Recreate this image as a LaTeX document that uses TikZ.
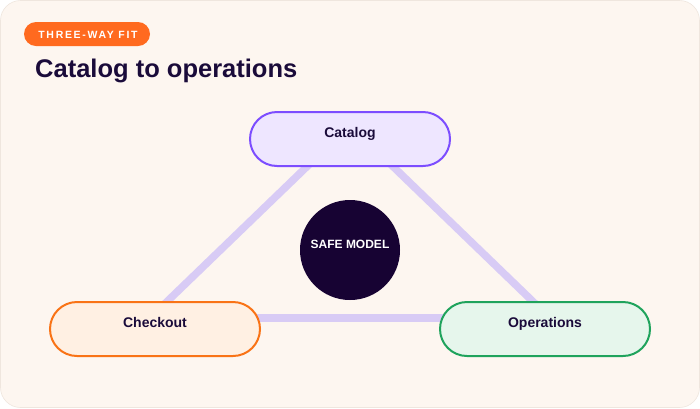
\documentclass[tikz,border=0pt]{standalone}
\usepackage{fontspec}
\setmainfont{Liberation Sans}
\newfontfamily\badgefont[LetterSpace=16]{Liberation Sans}
\definecolor{bgc}{HTML}{FDF6F0}
\definecolor{bgline}{HTML}{EFE6DE}
\definecolor{badgec}{HTML}{FF6A1F}
\definecolor{ink}{HTML}{1A0B3A}
\definecolor{catfill}{HTML}{EEE6FF}
\definecolor{catline}{HTML}{7C4DFF}
\definecolor{chkfill}{HTML}{FFF0E3}
\definecolor{chkline}{HTML}{F97316}
\definecolor{opfill}{HTML}{E6F6EC}
\definecolor{opline}{HTML}{1FA35C}
\definecolor{edgec}{HTML}{D8CBF5}
\definecolor{core}{HTML}{170333}
\tikzset{
  pill/.style={rounded rectangle, minimum width=200pt, minimum height=54pt, line width=2pt, inner sep=0pt},
  lbl/.style={anchor=base, inner sep=0pt, font=\bfseries\fontsize{14}{16}\selectfont, text=ink},
  link/.style={edgec, line width=7.5pt},
}
\usetikzlibrary{shapes.misc}
\begin{document}
\begin{tikzpicture}[x=1pt,y=-1pt]
\useasboundingbox (0,0) rectangle (700,408);
\fill[bgc, draw=bgline, line width=0.6pt, rounded corners=20pt] (0.5,0.5) rectangle (699.5,407.5);
% badge
\node[rounded rectangle, fill=badgec, minimum width=126pt, minimum height=24pt, inner sep=0pt] (badge) at (87,34) {};
\node[anchor=base, inner sep=0pt, text=white, font=\badgefont\bfseries\fontsize{10.5}{12}\selectfont] (badgel) at (88,38) {THREE-WAY FIT};
% title
\node[anchor=base west, inner sep=0pt, text=ink, font=\bfseries\fontsize{25.5}{28}\selectfont] (title) at (35,77) {Catalog to operations};
% triangle vertices
\coordinate (vtop) at (350,125);
\coordinate (vleft) at (150,318);
\coordinate (vright) at (550,318);
\draw[link] (vtop) -- (vleft);
\draw[link] (vtop) -- (vright);
\draw[link] (vleft) -- (vright);
% nodes
\node[pill, fill=catfill, draw=catline, minimum width=200pt] (cat) at (350,139) {};
\node[lbl] (catl) at (350,137) {Catalog};
\node[pill, fill=chkfill, draw=chkline, minimum width=210pt] (chk) at (155,329) {};
\node[lbl] (chkl) at (155,327) {Checkout};
\node[pill, fill=opfill, draw=opline, minimum width=210pt] (op) at (545,329) {};
\node[lbl] (opl) at (545,327) {Operations};
\node[circle, fill=core, minimum size=100pt, inner sep=0pt] (core) at (350,250) {};
\node[anchor=base, inner sep=0pt, text=white, font=\bfseries\fontsize{12}{14}\selectfont] (corel) at (350,248) {SAFE MODEL};
\end{tikzpicture}
\end{document}
